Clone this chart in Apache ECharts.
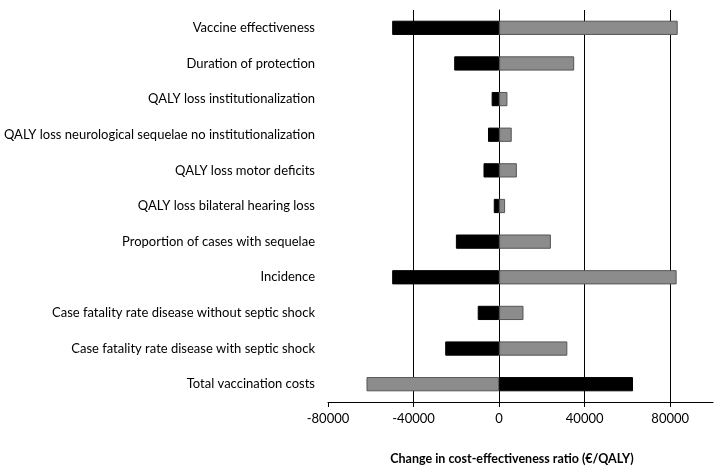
<!DOCTYPE html>
<html>
<head>
<meta charset="utf-8">
<script src="https://cdn.jsdelivr.net/npm/echarts@6/dist/echarts.min.js"></script>
<style>
html,body{margin:0;padding:0;background:#fff;}
#chart{width:723px;height:475px;}
</style>
</head>
<body>
<div id="chart"></div>
<script>
const categories = [
  "Vaccine effectiveness",
  "Duration of protection",
  "QALY loss institutionalization",
  "QALY loss neurological sequelae no institutionalization",
  "QALY loss motor deficits",
  "QALY loss bilateral hearing loss",
  "Proportion of cases with sequelae",
  "Incidence",
  "Case fatality rate disease without septic shock",
  "Case fatality rate disease with septic shock",
  "Total vaccination costs"
];
const blackValues = [-50000, -21000, -3500, -5200, -7300, -2500, -20200, -50000, -10000, -25200, 62600];
const grayValues  = [83500, 35100, 3900, 5900, 8300, 2800, 24200, 83000, 11400, 31900, -62000];
const xTicks = [-80000, -40000, 0, 40000, 80000];

const chart = echarts.init(document.getElementById('chart'));
const font = 'Lato, "Open Sans", sans-serif';
chart.setOption({
  animation: false,
  backgroundColor: '#fff',
  title: {
    text: 'Change in cost-effectiveness ratio (€/QALY)',
    left: 507, top: 447, textAlign: 'center',
    textStyle: {fontFamily: font, fontSize: 12.5, fontWeight: 'bold', color: '#000'}
  },
  grid: {left: 328, right: 10, top: 10, bottom: 73},
  xAxis: {
    type: 'value', min: -80000, max: 100000, interval: 40000,
    axisLine: {show: true, lineStyle: {color: '#000', width: 1}},
    axisTick: {show: true, length: 5, lineStyle: {color: '#000'}},
    splitLine: {show: true, showMinLine: false, showMaxLine: false, lineStyle: {color: '#000', width: 1}},
    axisLabel: {
      color: '#000', fontFamily: font, fontSize: 13, margin: 10, showMaxLabel: false,
      formatter: v => xTicks.includes(v) ? String(v) : ''
    }
  },
  yAxis: {
    type: 'category', data: categories, inverse: true,
    axisLine: {show: true, lineStyle: {color: '#000', width: 1}},
    axisTick: {show: false},
    axisLabel: {color: '#000', fontFamily: font, fontSize: 13, margin: 13}
  },
  series: [
    {
      name: 'low', type: 'bar', data: blackValues, barWidth: '40%', barGap: '-100%',
      itemStyle: {color: '#000', borderColor: '#000', borderWidth: 1}, z: 3
    },
    {
      name: 'high', type: 'bar', data: grayValues, barWidth: '40%',
      itemStyle: {color: '#8c8c8c', borderColor: '#555', borderWidth: 1}, z: 3
    }
  ]
});
</script>
</body>
</html>
